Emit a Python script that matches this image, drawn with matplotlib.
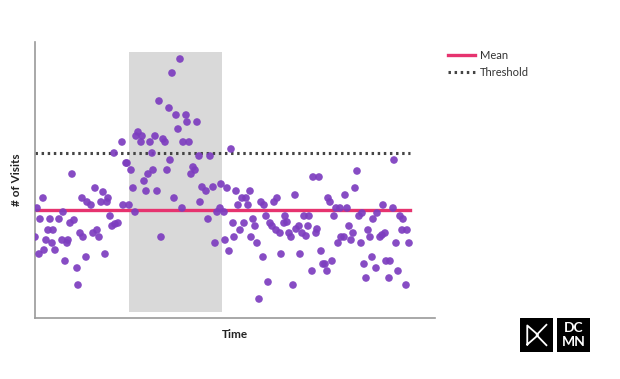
import matplotlib
matplotlib.use('Agg')
import matplotlib.pyplot as plt
from matplotlib.patches import Rectangle
from matplotlib.lines import Line2D

plt.rcParams['font.family'] = ['Lato', 'DejaVu Sans']

# data
days = [0, 2, 4, 5, 8, 9, 11, 13, 15, 17, 18, 20, 24, 27, 28, 30, 32, 33, 35, 37,
        39, 42, 43, 45, 47, 48, 51, 52, 56, 58, 60, 62, 64, 66, 68, 70, 72, 73, 75, 77,
        79, 80, 83, 87, 88, 91, 92, 94, 96, 98, 100, 101, 103, 106, 107, 109, 111, 113, 115, 117,
        118, 120, 122, 124, 126, 128, 130, 132, 134, 135, 137, 139, 141, 143, 145, 147, 148, 151, 152, 154,
        156, 158, 160, 162, 164, 165, 167, 171, 173, 175, 178, 180, 182, 185, 186, 189, 190, 192, 194, 196,
        198, 199, 201, 203, 205, 207, 209, 211, 213, 215, 216, 218, 220, 222, 224, 226, 228, 229, 231, 233,
        235, 237, 239, 241, 242, 245, 246, 249, 250, 252, 254, 256, 258, 260, 261, 264, 265, 267, 269, 271,
        273, 274, 277, 278, 281, 282, 284, 286, 288, 290, 292, 293, 295, 297, 299, 301, 303, 305, 306, 309,
        310, 312, 314, 316, 318, 320, 322, 324, 326, 327, 329, 331, 333, 335, 337, 338, 341, 342, 345, 347,
        348, 350, 351, 354, 355, 358, 359, 361, 363, 365, 367, 368, 371, 372, 374]
visits = [81, 110, 64, 99, 120, 68, 78, 88, 99, 75, 88, 68, 99, 78, 106, 57, 75, 78, 95, 144,
          98, 50, 33, 85, 120, 81, 61, 116, 113, 85, 130, 88, 81, 116, 126, 64, 116, 120, 102, 92,
          165, 94, 95, 176, 113, 155, 155, 113, 148, 130, 106, 182, 186, 176, 182, 137, 127, 144, 176, 165,
          148, 182, 127, 217, 81, 179, 176, 148, 210, 158, 245, 120, 203, 189, 259, 110, 176, 203, 196, 176,
          144, 151, 148, 196, 162, 116, 131, 127, 99, 162, 131, 75, 106, 110, 134, 106, 78, 130, 67, 169,
          95, 81, 127, 113, 88, 120, 95, 120, 113, 127, 81, 99, 92, 75, 19, 116, 61, 113, 102, 36,
          95, 92, 116, 88, 120, 85, 64, 95, 102, 96, 85, 81, 33, 123, 89, 92, 64, 85, 102, 82,
          92, 102, 47, 141, 85, 89, 141, 67, 54, 54, 47, 120, 116, 57, 102, 110, 75, 110, 81, 81,
          123, 110, 92, 78, 85, 130, 147, 102, 75, 105, 54, 40, 88, 81, 61, 99, 50, 105, 81, 83,
          113, 85, 57, 40, 57, 110, 158, 75, 47, 102, 88, 99, 33, 88, 75]

mean_visits = 108
threshold = 165
campaign_start, campaign_end = 94, 187

fig = plt.figure(figsize=(6.2, 3.79), dpi=100)
ax = fig.add_axes([35/620, 1 - 318/379, 400/620, 276/379])

ax.add_patch(Rectangle((campaign_start, 6), campaign_end - campaign_start, 260,
                       facecolor='#d9d9d9', edgecolor='none', zorder=0))
ax.plot([0, 375], [threshold, threshold], color='#444444', linestyle=(0, (0.8, 1.2)),
        linewidth=2.2, dash_capstyle='butt', zorder=1)
ax.plot([0, 375], [mean_visits, mean_visits], color='#e6336f', linewidth=2.4, zorder=2)
ax.scatter(days, visits, s=30, color='#7d3dbf', alpha=0.92, edgecolors='none', zorder=3)

ax.set_xlim(0, 400)
ax.set_ylim(0, 276)
ax.set_xticks([])
ax.set_yticks([])
for side in ['top', 'right']:
    ax.spines[side].set_visible(False)
for side in ['left', 'bottom']:
    ax.spines[side].set_color('#9a9a9a')
    ax.spines[side].set_linewidth(1.2)

ax.set_xlabel('Time', fontsize=8.5, fontweight='bold', color='#222222', labelpad=8)
ax.set_ylabel('# of Visits', fontsize=8.5, fontweight='bold', color='#222222', labelpad=9)

handles = [Line2D([], [], color='#e6336f', linewidth=2.4),
           Line2D([], [], color='#444444', linestyle=(0, (0.8, 1.2)), linewidth=2.2)]
fig.legend(handles, ['Mean', 'Threshold'], loc='upper left',
           bbox_to_anchor=(438/620, 1 - 40/379), frameon=False, fontsize=8,
           handlelength=2.4, handletextpad=0.5, labelspacing=0.5, labelcolor='#333333')

# DCMN logo
lax = fig.add_axes([520/620, 1 - 352/379, 33/620, 34/379])
lax.set_xlim(0, 1)
lax.set_ylim(0, 1)
lax.axis('off')
lax.add_patch(Rectangle((0, 0), 1, 1, color='black'))
lax.plot([0.22, 0.22, 0.55, 0.22], [0.22, 0.78, 0.5, 0.22], color='white', linewidth=1.3)
lax.plot([0.8, 0.5, 0.8], [0.8, 0.5, 0.2], color='white', linewidth=1.3)
rax = fig.add_axes([557/620, 1 - 352/379, 33/620, 34/379])
rax.set_xlim(0, 1)
rax.set_ylim(0, 1)
rax.axis('off')
rax.add_patch(Rectangle((0, 0), 1, 1, color='black'))
rax.text(0.5, 0.72, 'DC', color='white', fontsize=10, fontweight='bold',
         ha='center', va='center')
rax.text(0.5, 0.28, 'MN', color='white', fontsize=10, fontweight='bold',
         ha='center', va='center')

fig.savefig('out.png', dpi=100)
